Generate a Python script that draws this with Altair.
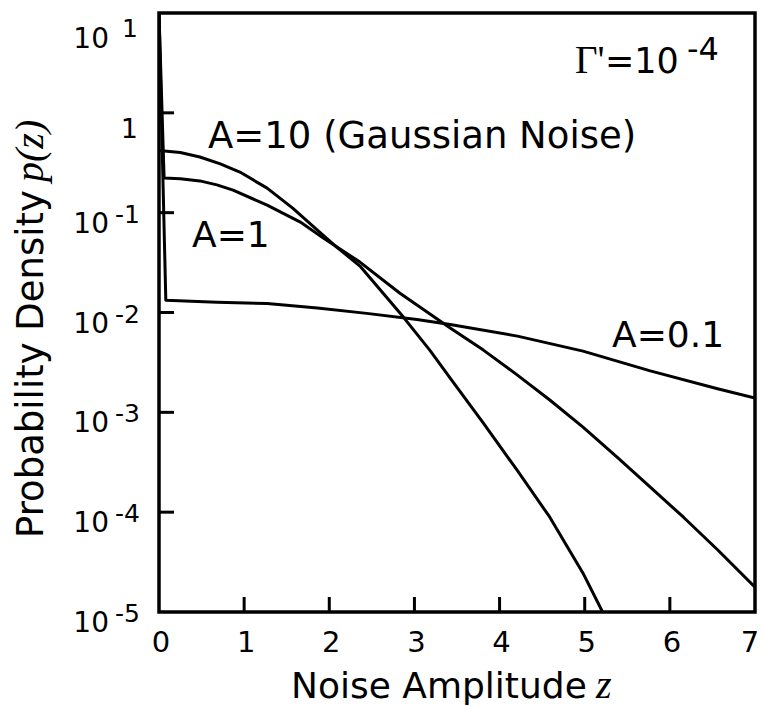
import altair as alt
import pandas as pd

# ---- data ----
z_a10 = [0.0, 0.25, 0.48, 0.72, 0.95, 1.27, 1.57, 1.86, 2.09, 2.36, 2.87, 3.18, 3.42, 3.81,
         4.21, 4.59, 4.98, 5.21]
p_a10 = [0.419, 0.400, 0.361, 0.308, 0.255, 0.176, 0.111, 0.067, 0.0450, 0.0292, 0.0090,
         0.0042, 0.0022, 7.8e-4, 2.6e-4, 8.9e-5, 2.45e-5, 1.0e-5]

z_a1 = [0.0, 0.06, 0.25, 0.48, 0.68, 0.87, 1.27, 1.66, 1.93, 2.36, 2.83, 3.42, 3.81, 4.21,
        4.59, 4.98, 5.38, 5.77, 6.16, 6.56, 7.0]
p_a1 = [10.0, 0.222, 0.219, 0.208, 0.190, 0.168, 0.119, 0.0805, 0.0556, 0.032, 0.0156,
        0.0070, 0.0042, 0.00236, 0.00133, 7.1e-4, 3.56e-4, 1.78e-4, 8.9e-5, 4.2e-5, 1.77e-5]

z_a01 = [0.0, 0.08, 0.68, 1.27, 1.86, 2.44, 3.03, 3.42, 4.21, 4.98, 5.77, 6.56, 7.0]
p_a01 = [10.0, 0.0133, 0.0127, 0.0123, 0.0111, 0.0098, 0.0085, 0.0076, 0.0058, 0.0041,
         0.0026, 0.00172, 0.00139]

x_ticks = [0, 1, 2, 3, 4, 5, 6, 7]
y_exps = [1, 0, -1, -2, -3, -4, -5]

rows = []
for name, zs, ps in [("A=10", z_a10, p_a10), ("A=1", z_a1, p_a1), ("A=0.1", z_a01, p_a01)]:
    for z, p in zip(zs, ps):
        rows.append({"series": name, "z": z, "p": p})
lines_df = pd.DataFrame(rows)
xt_df = pd.DataFrame({"t": x_ticks})
yt_df = pd.DataFrame({"e": y_exps})

W, H = 596, 599
SANS = "DejaVu Sans"
SERIF = "Liberation Serif"

xscale = alt.Scale(domain=[0, 7], nice=False, zero=False)
yscale = alt.Scale(type="log", domain=[1e-5, 10], nice=False)

axis_style = dict(labels=False, ticks=False, grid=False, domainWidth=4.5, domainColor="black")

lines = alt.Chart(lines_df).mark_line(
    color="black", strokeWidth=3, interpolate="linear", clip=True, strokeJoin="round"
).encode(
    x=alt.X("z:Q", scale=xscale, axis=alt.Axis(**axis_style), title=""),
    y=alt.Y("p:Q", scale=yscale, axis=alt.Axis(**axis_style), title=""),
    detail="series:N",
)

ybase = alt.Chart(yt_df).transform_calculate(v="pow(10, datum.e)")

yticks = ybase.transform_filter("datum.e < 1 && datum.e > -5").mark_rule(
    color="black", strokeWidth=3
).encode(
    y=alt.Y("v:Q", scale=yscale, axis=None),
    x=alt.value(0),
    x2=alt.value(15),
)

xticks = alt.Chart(xt_df).transform_filter("datum.t > 0 && datum.t < 7").mark_rule(
    color="black", strokeWidth=3
).encode(
    x=alt.X("t:Q", scale=xscale, axis=None),
    y=alt.value(H),
    y2=alt.value(H - 15),
)

xlabels = alt.Chart(xt_df).transform_filter("datum.t < 7").mark_text(
    font=SANS, fontSize=29, align="center", baseline="alphabetic", dx=2, color="black"
).encode(
    x=alt.X("t:Q", scale=xscale, axis=None),
    y=alt.value(639),
    text=alt.Text("t:Q"),
)
xlabel_last = alt.Chart(xt_df).transform_filter("datum.t == 7").mark_text(
    font=SANS, fontSize=29, align="center", baseline="alphabetic", dx=-5, color="black"
).encode(
    x=alt.X("t:Q", scale=xscale, axis=None),
    y=alt.value(639),
    text=alt.Text("t:Q"),
)

ten_mid = ybase.transform_filter("datum.e < 1 && datum.e != 0").transform_calculate(
    b="'10'"
).mark_text(font=SANS, fontSize=28, align="right", baseline="alphabetic", dy=20, color="black").encode(
    y=alt.Y("v:Q", scale=yscale, axis=None), x=alt.value(-50), text="b:N"
)
exp_mid = ybase.transform_filter("datum.e < 0").transform_calculate(
    s="'' + datum.e"
).mark_text(font=SANS, fontSize=25, align="right", baseline="alphabetic", dy=10, color="black").encode(
    y=alt.Y("v:Q", scale=yscale, axis=None), x=alt.value(-19), text="s:N"
)
ten_top = ybase.transform_filter("datum.e == 1").transform_calculate(
    b="'10'"
).mark_text(font=SANS, fontSize=28, align="right", baseline="alphabetic", dy=35, color="black").encode(
    y=alt.Y("v:Q", scale=yscale, axis=None), x=alt.value(-50), text="b:N"
)
exp_top = ybase.transform_filter("datum.e == 1").transform_calculate(
    s="'' + datum.e"
).mark_text(font=SANS, fontSize=25, align="right", baseline="alphabetic", dy=24, color="black").encode(
    y=alt.Y("v:Q", scale=yscale, axis=None), x=alt.value(-21), text="s:N"
)
one_lab = ybase.transform_filter("datum.e == 0").transform_calculate(
    s="'1'"
).mark_text(font=SANS, fontSize=27, align="right", baseline="alphabetic", dy=25, color="black").encode(
    y=alt.Y("v:Q", scale=yscale, axis=None), x=alt.value(-21), text="s:N"
)

one = pd.DataFrame({"a": [0]})


def label(txt, x, y, font=SANS, size=36, style="normal", angle=0, align="left"):
    return alt.Chart(one).mark_text(
        text=txt, font=font, fontSize=size, fontStyle=style, angle=angle,
        align=align, baseline="alphabetic", color="black",
    ).encode(x=alt.value(x), y=alt.value(y))


texts = [
    label("Probability Density ", -116, 525, size=37, angle=270),
    label("p(z)", -116, 169, font=SERIF, size=40, style="italic", angle=270),
    label("Noise Amplitude", 132, 685, size=36),
    label("z", 437, 685, font=SERIF, size=40, style="italic"),
    label("A=10 (Gaussian Noise)", 49, 135, size=37),
    label("A=1", 33, 234, size=36),
    label("A=0.1", 453, 334, size=36),
    label("\u0393'", 416, 60, font=SERIF, size=39),
    label("=10", 446, 60, size=35),
    label("-4", 528, 47, size=32),
]

chart = alt.layer(
    lines, yticks, xticks, xlabels, xlabel_last, ten_mid, exp_mid, ten_top, exp_top, one_lab, *texts
).properties(
    width=W,
    height=H,
    padding={"left": 159, "top": 13, "right": 7, "bottom": 94},
    autosize=alt.AutoSizeParams(type="none"),
    background="white",
).configure_view(stroke="black", strokeWidth=3.5)

chart.save("out.html", embed_options={"renderer": "svg", "actions": False})
